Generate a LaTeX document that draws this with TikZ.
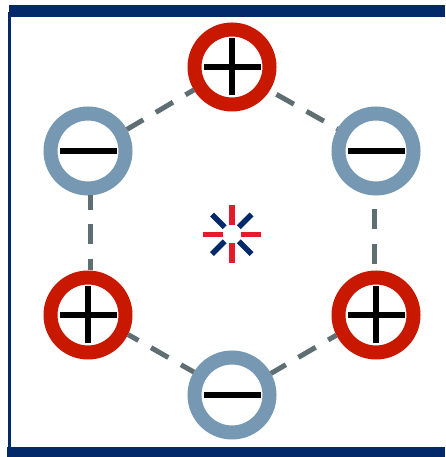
\documentclass[tikz,border=0pt]{standalone}
\definecolor{frameNavy}{RGB}{3, 41, 107}
\definecolor{plusRed}{RGB}{200, 25, 0}
\definecolor{minusBlue}{RGB}{118, 152, 179}
\definecolor{linkGray}{RGB}{95, 110, 114}
\definecolor{hubRed}{RGB}{227, 27, 45}
\usetikzlibrary{positioning}
\tikzset{
  ring/.style={circle, draw=#1, fill=white, line width=14pt, minimum size=75pt, inner sep=0pt},
  link/.style={draw=linkGray, line width=5pt, dash pattern=on 20pt off 14.5pt},
  sign/.style={black, line width=5.4pt}
}

\begin{document}
\begin{tikzpicture}[x=1pt, y=1pt]
    \useasboundingbox (0,0) rectangle (445,457);

    % Frame
    \fill[frameNavy] (8,7) rectangle (11.3,445);
    \fill[frameNavy] (9,440.3) rectangle (445,452);
    \fill[frameNavy] (7,0) rectangle (445,10.3);

    % Rings
    \node[ring=plusRed] (plusTop) at (232,390) {};
    \node[ring=minusBlue] (minusLeft) at (88,306) {};
    \node[ring=minusBlue] (minusRight) at (376,306) {};
    \node[ring=plusRed] (plusLeft) at (88,142) {};
    \node[ring=plusRed] (plusRight) at (376,142) {};
    \node[ring=minusBlue] (minusBottom) at (232,62) {};

    % Signs
    \foreach \n in {plusTop, minusLeft, minusRight, plusLeft, plusRight, minusBottom} {
      \draw[sign] ([xshift=-27.7pt]\n.center) -- ([xshift=29.3pt]\n.center);
    }
    \foreach \n in {plusTop, plusLeft, plusRight} {
      \draw[sign] ([yshift=-28.5pt]\n.center) -- ([yshift=28.5pt]\n.center);
    }

    % Links
    \draw[link, dash phase=26.8pt] (plusTop.-32.5) -- (minusRight.150.6);
    \draw[link, dash phase=1pt] (minusLeft.29.4) -- (plusTop.211.9);
    \draw[link, dash phase=5.5pt] ([xshift=2.7pt]minusLeft.south) -- ([xshift=2.7pt]plusLeft.north);
    \draw[link, dash phase=20.7pt] ([xshift=-1.7pt]minusRight.south) -- ([xshift=-1.7pt]plusRight.north);
    \draw[link, dash phase=8pt] (plusLeft.-26.8) -- (minusBottom.149);
    \draw[link, dash phase=2.7pt] (minusBottom.29.8) -- (plusRight.207.3);

    % Hub
    \coordinate (hub) at (231.8,222.7);
    \foreach \a in {0,90,180,270} {
      \draw[hubRed, line width=5.5pt] (hub) ++(\a:9) -- ++(\a:20);
    }
    \foreach \a in {45,135,225,315} {
      \draw[frameNavy, line width=5.5pt] (hub) ++(\a:10) -- ++(\a:18);
    }
  \end{tikzpicture}
\end{document}
